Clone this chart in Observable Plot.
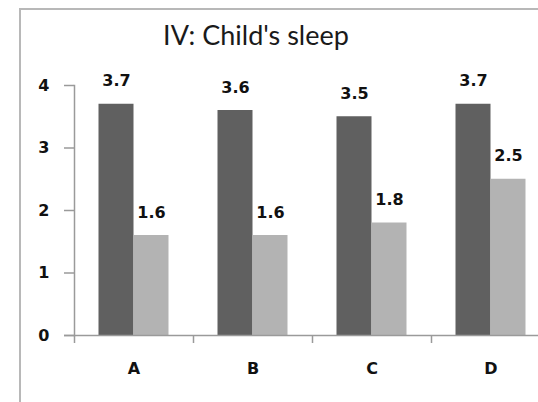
<!DOCTYPE html>
<html>
<head>
<meta charset="utf-8">
<script src="https://cdn.jsdelivr.net/npm/d3@7"></script>
<script src="https://cdn.jsdelivr.net/npm/@observablehq/plot@0.6"></script>
<style>
  html, body { margin: 0; padding: 0; background: #fff; }
  #wrap { position: relative; width: 538px; height: 402px; overflow: hidden; background: #fff; }
  #border { position: absolute; left: 19px; top: 8px; width: 600px; height: 500px;
            border-left: 2px solid #b8b8b8; border-top: 2px solid #b8b8b8; }
  #title { position: absolute; left: 0; top: 21px; width: 512px; text-align: center;
           font-family: Lato, "Noto Sans", sans-serif; font-size: 27px; line-height: 27px; color: #1a1a1a; }
  #chart { position: absolute; left: 0; top: 0; }
</style>
</head>
<body>
<div id="wrap">
  <div id="border"></div>
  <div id="chart"></div>
  <div id="title"></div>
</div>
<script>
const title = "IV: Child's sleep";
const categories = ["A", "B", "C", "D"];
const darkValues = [3.7, 3.6, 3.5, 3.7];
const lightValues = [1.6, 1.6, 1.8, 2.5];
const yTicks = [0, 1, 2, 3, 4];

const darkData = categories.map((c, i) => ({cat: c, value: darkValues[i]}));
const lightData = categories.map((c, i) => ({cat: c, value: lightValues[i]}));

const xStart = 74, xEnd = 550;
const step = (xEnd - xStart) / categories.length;
const barW = 35;
const outer = step / 2 - barW;
const numFont = "'DejaVu Sans', sans-serif";
const axisColor = "#9a9a9a";

document.getElementById("title").textContent = title;

const chart = Plot.plot({
  width: 538,
  height: 402,
  marginLeft: 74,
  marginRight: 0,
  marginTop: 85,
  marginBottom: 67,
  style: {fontFamily: numFont, fontSize: "16px", fontWeight: "bold", color: "#111", background: "transparent", overflow: "hidden"},
  x: {type: "band", domain: categories, range: [xStart, xEnd], padding: 0},
  y: {domain: [0, 4]},
  marks: [
    Plot.barY(darkData, {x: "cat", y: "value", fill: "#606060", insetLeft: outer, insetRight: step / 2}),
    Plot.barY(lightData, {x: "cat", y: "value", fill: "#b3b3b3", insetLeft: step / 2, insetRight: outer}),
    Plot.frame({anchor: "left", stroke: axisColor, strokeWidth: 1.5}),
    Plot.ruleY([0], {stroke: axisColor, strokeWidth: 1.5, insetLeft: -10}),
    Plot.axisY({ticks: yTicks, tickFormat: d => String(d), tickSize: 10, tickPadding: 15, stroke: axisColor, strokeWidth: 1.5, fontSize: 16, fontWeight: "bold", fill: "#111", label: null}),
    Plot.axisX({tickSize: 8, tickFormat: () => "", dx: -step / 2, stroke: axisColor, strokeWidth: 1.5, label: null}),
    Plot.axisX({tickSize: 0, tickPadding: 27, fontSize: 16, fontWeight: "bold", fill: "#111", label: null}),
    Plot.text(darkData, {x: "cat", y: "value", text: d => d.value.toFixed(1), dx: -barW / 2, dy: -23, fontSize: 16, fontWeight: "bold", fill: "#111"}),
    Plot.text(lightData, {x: "cat", y: "value", text: d => d.value.toFixed(1), dx: barW / 2, dy: -23, fontSize: 16, fontWeight: "bold", fill: "#111"})
  ]
});
document.getElementById("chart").appendChild(chart);
</script>
</body>
</html>
